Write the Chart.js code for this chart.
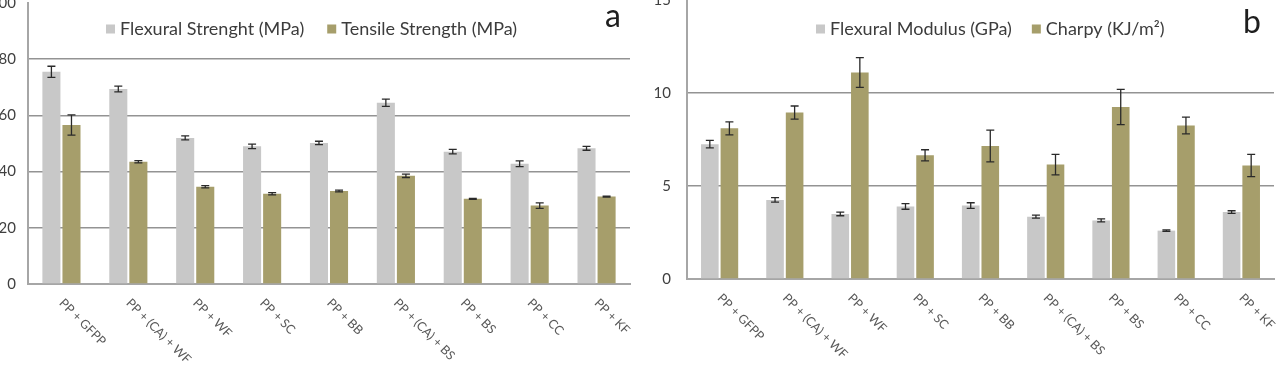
<!DOCTYPE html>
<html>
<head>
<meta charset="utf-8">
<title>Mechanical properties</title>
<script src="https://cdn.jsdelivr.net/npm/chart.js@4.4.1/dist/chart.umd.min.js"></script>
<style>
  html, body { margin: 0; padding: 0; background: #fff; overflow: hidden; }
  body { width: 1284px; height: 366px; position: relative; }
  canvas { position: absolute; }
  #chartA { left: 0; top: -12px; }
  #chartB { left: 640px; top: -12px; }
</style>
</head>
<body>
<canvas id="chartA" width="640" height="378"></canvas>
<canvas id="chartB" width="644" height="378"></canvas>
<script>
// categories (same for both panels)
var samples = ["PP + GFPP", "PP + (CA) + WF", "PP + WF", "PP + SC", "PP + BB", "PP + (CA) + BS", "PP + BS", "PP + CC", "PP + KF"];

// panel a
var flexStrength = [75.5, 69.4, 52.0, 49.0, 50.2, 64.5, 47.1, 42.8, 48.3];
var flexStrengthErr = [2.0, 1.0, 0.7, 0.8, 0.6, 1.3, 0.8, 1.0, 0.7];
var tensileStrength = [56.6, 43.5, 34.6, 32.1, 33.1, 38.5, 30.3, 27.9, 31.1];
var tensileStrengthErr = [3.6, 0.4, 0.4, 0.4, 0.3, 0.6, 0.2, 1.0, 0.2];
var ticksA = [0, 20, 40, 60, 80, 100];

// panel b
var flexModulus = [7.25, 4.25, 3.5, 3.9, 3.95, 3.35, 3.15, 2.6, 3.6];
var flexModulusErr = [0.2, 0.12, 0.1, 0.15, 0.15, 0.08, 0.08, 0.04, 0.07];
var charpy = [8.1, 8.95, 11.1, 6.65, 7.15, 6.15, 9.25, 8.25, 6.1];
var charpyErr = [0.35, 0.35, 0.8, 0.3, 0.85, 0.55, 0.95, 0.45, 0.6];
var ticksB = [0, 5, 10, 15];

var GREY = '#c8c8c8';
var OLIVE = '#a69e6b';
var FONT = 'Lato, "Open Sans", sans-serif';

// error bars, drawn from the dataset "errors" arrays
var errorBars = {
  id: 'errorBars',
  afterDatasetsDraw: function (chart) {
    var ctx = chart.ctx, y = chart.scales.y;
    ctx.save();
    ctx.strokeStyle = '#2a2a2a';
    ctx.lineWidth = 1.3;
    chart.data.datasets.forEach(function (ds, i) {
      chart.getDatasetMeta(i).data.forEach(function (bar, j) {
        var v = ds.data[j], e = ds.errors[j];
        var top = y.getPixelForValue(v + e), bot = y.getPixelForValue(v - e);
        ctx.beginPath();
        ctx.moveTo(bar.x, top); ctx.lineTo(bar.x, bot);
        ctx.moveTo(bar.x - 4, top); ctx.lineTo(bar.x + 4, top);
        ctx.moveTo(bar.x - 4, bot); ctx.lineTo(bar.x + 4, bot);
        ctx.stroke();
      });
    });
    ctx.restore();
  }
};

// legend inside the plot, slanted category labels and the panel letter
var panelExtras = {
  id: 'panelExtras',
  afterDraw: function (chart, args, opts) {
    var ctx = chart.ctx, x = chart.scales.x, area = chart.chartArea;
    ctx.save();

    // legend
    ctx.font = '18px ' + FONT;
    ctx.textBaseline = 'middle';
    ctx.textAlign = 'left';
    var lx = opts.legendX;
    chart.data.datasets.forEach(function (ds) {
      ctx.fillStyle = ds.backgroundColor;
      ctx.fillRect(lx, opts.legendY - 4.5, 9, 9);
      ctx.fillStyle = '#3c3c3c';
      ctx.fillText(ds.label, lx + 14, opts.legendY);
      lx += 14 + ctx.measureText(ds.label).width + opts.legendGap;
    });

    // category labels, rotated clockwise
    ctx.font = '12.5px ' + FONT;
    ctx.fillStyle = '#595959';
    chart.data.labels.forEach(function (lab, i) {
      ctx.save();
      ctx.translate(x.getPixelForTick(i) + opts.labelDx, area.bottom + opts.labelDy);
      ctx.rotate(Math.PI / 4);
      ctx.fillText(lab, 0, 0);
      ctx.restore();
    });

    // panel letter
    ctx.font = '32px ' + FONT;
    ctx.fillStyle = '#1e1e1e';
    ctx.textBaseline = 'alphabetic';
    ctx.fillText(opts.letter, opts.letterX, opts.letterY);
    ctx.restore();
  }
};

function panel(canvasId, sets, ticks, padding, axisWidth, tickPad, extras) {
  var max = ticks[ticks.length - 1];
  return new Chart(document.getElementById(canvasId).getContext('2d'), {
    type: 'bar',
    data: {
      labels: samples,
      datasets: sets.map(function (s) {
        return {
          label: s.label,
          data: s.data,
          errors: s.errors,
          backgroundColor: s.color,
          borderWidth: 0,
          barPercentage: 0.9,
          categoryPercentage: 0.6
        };
      })
    },
    options: {
      responsive: false,
      animation: false,
      devicePixelRatio: 1,
      layout: { padding: padding, autoPadding: false },
      plugins: {
        legend: { display: false },
        tooltip: { enabled: false },
        panelExtras: extras
      },
      scales: {
        x: {
          grid: { display: false },
          border: { color: '#a6a6a6', width: 2 },
          ticks: { display: false },
          afterFit: function (s) { s.height = 0; s.paddingLeft = 0; s.paddingRight = 0; }
        },
        y: {
          min: 0,
          max: max,
          afterBuildTicks: function (s) { s.ticks = ticks.map(function (v) { return { value: v }; }); },
          afterFit: function (s) { s.width = axisWidth; s.paddingTop = 0; s.paddingBottom = 0; },
          grid: {
            drawTicks: false,
            lineWidth: 1.5,
            color: function (c) { return c.tick && c.tick.value === max ? 'rgba(0,0,0,0)' : '#939393'; }
          },
          border: { color: '#a6a6a6', width: 2 },
          ticks: {
            padding: tickPad,
            color: '#404040',
            font: { family: FONT, size: 15 }
          }
        }
      }
    },
    plugins: [errorBars, panelExtras]
  });
}

var chartA = panel('chartA', [
  { label: 'Flexural Strenght (MPa)', data: flexStrength, errors: flexStrengthErr, color: GREY },
  { label: 'Tensile Strength (MPa)', data: tensileStrength, errors: tensileStrengthErr, color: OLIVE }
], ticksA, { top: 15, bottom: 82, left: 0, right: 10 }, 28, 12,
  { legendX: 106, legendY: 41, legendGap: 23, labelDx: 0, labelDy: 17, letter: 'a', letterX: 605, letterY: 39 });

var chartB = panel('chartB', [
  { label: 'Flexural Modulus (GPa)', data: flexModulus, errors: flexModulusErr, color: GREY },
  { label: 'Charpy (KJ/m²)', data: charpy, errors: charpyErr, color: OLIVE }
], ticksB, { top: 12, bottom: 87, left: 0, right: 10 }, 47, 16,
  { legendX: 176, legendY: 41, legendGap: 20, labelDx: 0, labelDy: 17, letter: 'b', letterX: 603, letterY: 45 });
</script>
</body>
</html>
